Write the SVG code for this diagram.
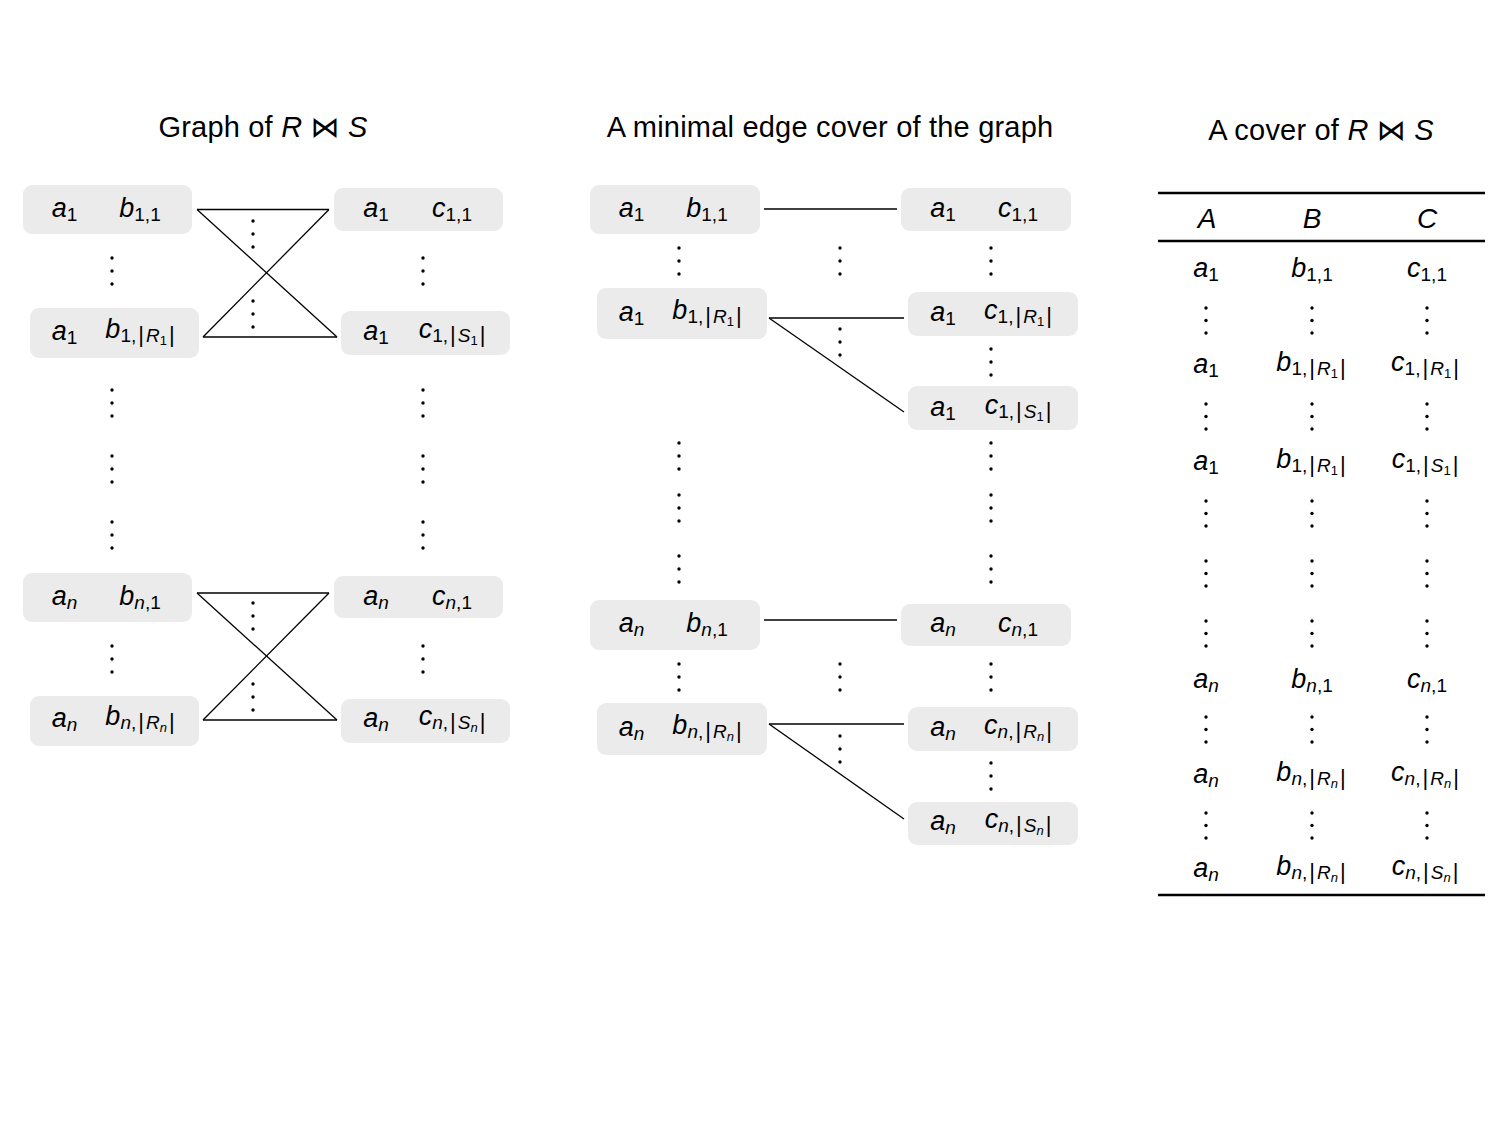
<svg xmlns="http://www.w3.org/2000/svg" xmlns:xlink="http://www.w3.org/1999/xlink" width="1511" height="1133" viewBox="0 0 1511 1133">
<style>
text{font-family:"Liberation Sans","DejaVu Sans",sans-serif;fill:#000}
.t{font-size:27px;text-anchor:middle}
.title{font-size:29px;text-anchor:middle;letter-spacing:0.2px}
.h{font-size:28px;text-anchor:middle;font-style:italic}
.i{font-style:italic}
.s{font-size:19px}
.ss{font-size:13px}
.bar{font-size:22px}
.box{fill:#ebebeb}
.edge{stroke:#000;stroke-width:1.3;fill:none}
.rule{stroke:#000;stroke-width:2.5}
</style>
<defs>
<g id="vd"><circle cx="0" cy="0" r="1.7"/><circle cx="0" cy="13" r="1.7"/><circle cx="0" cy="26" r="1.7"/></g>
<g id="vt"><circle cx="0" cy="0" r="1.7"/><circle cx="0" cy="12.5" r="1.7"/><circle cx="0" cy="25" r="1.7"/></g>
</defs>
<rect width="1511" height="1133" fill="#fff"/>

<g id="titles">
<text class="title" x="263" y="137">Graph of <tspan class="i">R</tspan> ⋈ <tspan class="i">S</tspan></text>
<text class="title" x="830" y="137">A minimal edge cover of the graph</text>
<text class="title" x="1321" y="140">A cover of <tspan class="i">R</tspan> ⋈ <tspan class="i">S</tspan></text>
</g>

<!-- Left graph nodes -->
<g id="L1"><rect class="box" x="23" y="185" width="169" height="49" rx="9"/>
<text class="t" x="64.5" y="217"><tspan class="i">a</tspan><tspan class="s" dy="4">1</tspan></text>
<text class="t" x="140" y="217"><tspan class="i">b</tspan><tspan class="s" dy="4">1,1</tspan></text></g>
<g id="L2"><rect class="box" x="30" y="308" width="169" height="50" rx="9"/>
<text class="t" x="64.5" y="340"><tspan class="i">a</tspan><tspan class="s" dy="4">1</tspan></text>
<text class="t" x="140" y="338"><tspan class="i">b</tspan><tspan class="s" dy="4">1,</tspan><tspan class="bar" dx="2">|</tspan><tspan class="s i" dx="2">R</tspan><tspan class="ss" dy="3">1</tspan><tspan class="bar" dx="2" dy="-3">|</tspan></text></g>
<g id="R1"><rect class="box" x="334" y="188" width="169" height="43" rx="9"/>
<text class="t" x="376" y="217"><tspan class="i">a</tspan><tspan class="s" dy="4">1</tspan></text>
<text class="t" x="452" y="217"><tspan class="i">c</tspan><tspan class="s" dy="4">1,1</tspan></text></g>
<g id="R2"><rect class="box" x="341" y="311" width="169" height="44" rx="9"/>
<text class="t" x="376" y="340"><tspan class="i">a</tspan><tspan class="s" dy="4">1</tspan></text>
<text class="t" x="452" y="338"><tspan class="i">c</tspan><tspan class="s" dy="4">1,</tspan><tspan class="bar" dx="2">|</tspan><tspan class="s i" dx="2">S</tspan><tspan class="ss" dy="3">1</tspan><tspan class="bar" dx="2" dy="-3">|</tspan></text></g>
<g id="L3"><rect class="box" x="23" y="573" width="169" height="49" rx="9"/>
<text class="t" x="64.5" y="605"><tspan class="i">a</tspan><tspan class="s i" dy="4">n</tspan></text>
<text class="t" x="140" y="605"><tspan class="i">b</tspan><tspan class="s i" dy="4">n</tspan><tspan class="s">,1</tspan></text></g>
<g id="L4"><rect class="box" x="30" y="696" width="169" height="50" rx="9"/>
<text class="t" x="64.5" y="727"><tspan class="i">a</tspan><tspan class="s i" dy="4">n</tspan></text>
<text class="t" x="140" y="725"><tspan class="i">b</tspan><tspan class="s i" dy="4">n</tspan><tspan class="s">,</tspan><tspan class="bar" dx="2">|</tspan><tspan class="s i" dx="2">R</tspan><tspan class="ss i" dy="3">n</tspan><tspan class="bar" dx="2" dy="-3">|</tspan></text></g>
<g id="R3"><rect class="box" x="334" y="576" width="169" height="42" rx="9"/>
<text class="t" x="376" y="605"><tspan class="i">a</tspan><tspan class="s i" dy="4">n</tspan></text>
<text class="t" x="452" y="605"><tspan class="i">c</tspan><tspan class="s i" dy="4">n</tspan><tspan class="s">,1</tspan></text></g>
<g id="R4"><rect class="box" x="341" y="699" width="169" height="44" rx="9"/>
<text class="t" x="376" y="727"><tspan class="i">a</tspan><tspan class="s i" dy="4">n</tspan></text>
<text class="t" x="452" y="725"><tspan class="i">c</tspan><tspan class="s i" dy="4">n</tspan><tspan class="s">,</tspan><tspan class="bar" dx="2">|</tspan><tspan class="s i" dx="2">S</tspan><tspan class="ss i" dy="3">n</tspan><tspan class="bar" dx="2" dy="-3">|</tspan></text></g>

<!-- Middle graph nodes -->
<g id="M1"><rect class="box" x="590" y="185" width="170" height="49" rx="9"/>
<text class="t" x="631.5" y="217"><tspan class="i">a</tspan><tspan class="s" dy="4">1</tspan></text>
<text class="t" x="707" y="217"><tspan class="i">b</tspan><tspan class="s" dy="4">1,1</tspan></text></g>
<g id="M2"><rect class="box" x="597" y="288" width="170" height="51" rx="9"/>
<text class="t" x="631.5" y="321"><tspan class="i">a</tspan><tspan class="s" dy="4">1</tspan></text>
<text class="t" x="707" y="319"><tspan class="i">b</tspan><tspan class="s" dy="4">1,</tspan><tspan class="bar" dx="2">|</tspan><tspan class="s i" dx="2">R</tspan><tspan class="ss" dy="3">1</tspan><tspan class="bar" dx="2" dy="-3">|</tspan></text></g>
<g id="MR1"><rect class="box" x="901" y="188" width="170" height="43" rx="9"/>
<text class="t" x="943" y="217"><tspan class="i">a</tspan><tspan class="s" dy="4">1</tspan></text>
<text class="t" x="1018" y="217"><tspan class="i">c</tspan><tspan class="s" dy="4">1,1</tspan></text></g>
<g id="MR2"><rect class="box" x="908" y="292" width="170" height="44" rx="9"/>
<text class="t" x="943" y="321"><tspan class="i">a</tspan><tspan class="s" dy="4">1</tspan></text>
<text class="t" x="1018" y="319"><tspan class="i">c</tspan><tspan class="s" dy="4">1,</tspan><tspan class="bar" dx="2">|</tspan><tspan class="s i" dx="2">R</tspan><tspan class="ss" dy="3">1</tspan><tspan class="bar" dx="2" dy="-3">|</tspan></text></g>
<g id="MR3"><rect class="box" x="908" y="386" width="170" height="44" rx="9"/>
<text class="t" x="943" y="416"><tspan class="i">a</tspan><tspan class="s" dy="4">1</tspan></text>
<text class="t" x="1018" y="414"><tspan class="i">c</tspan><tspan class="s" dy="4">1,</tspan><tspan class="bar" dx="2">|</tspan><tspan class="s i" dx="2">S</tspan><tspan class="ss" dy="3">1</tspan><tspan class="bar" dx="2" dy="-3">|</tspan></text></g>
<g id="M3"><rect class="box" x="590" y="600" width="170" height="50" rx="9"/>
<text class="t" x="631.5" y="632"><tspan class="i">a</tspan><tspan class="s i" dy="4">n</tspan></text>
<text class="t" x="707" y="632"><tspan class="i">b</tspan><tspan class="s i" dy="4">n</tspan><tspan class="s">,1</tspan></text></g>
<g id="M4"><rect class="box" x="597" y="703" width="170" height="52" rx="9"/>
<text class="t" x="631.5" y="736"><tspan class="i">a</tspan><tspan class="s i" dy="4">n</tspan></text>
<text class="t" x="707" y="734"><tspan class="i">b</tspan><tspan class="s i" dy="4">n</tspan><tspan class="s">,</tspan><tspan class="bar" dx="2">|</tspan><tspan class="s i" dx="2">R</tspan><tspan class="ss i" dy="3">n</tspan><tspan class="bar" dx="2" dy="-3">|</tspan></text></g>
<g id="MR4"><rect class="box" x="901" y="604" width="170" height="42" rx="9"/>
<text class="t" x="943" y="632"><tspan class="i">a</tspan><tspan class="s i" dy="4">n</tspan></text>
<text class="t" x="1018" y="632"><tspan class="i">c</tspan><tspan class="s i" dy="4">n</tspan><tspan class="s">,1</tspan></text></g>
<g id="MR5"><rect class="box" x="908" y="707" width="170" height="44" rx="9"/>
<text class="t" x="943" y="736"><tspan class="i">a</tspan><tspan class="s i" dy="4">n</tspan></text>
<text class="t" x="1018" y="734"><tspan class="i">c</tspan><tspan class="s i" dy="4">n</tspan><tspan class="s">,</tspan><tspan class="bar" dx="2">|</tspan><tspan class="s i" dx="2">R</tspan><tspan class="ss i" dy="3">n</tspan><tspan class="bar" dx="2" dy="-3">|</tspan></text></g>
<g id="MR6"><rect class="box" x="908" y="802" width="170" height="43" rx="9"/>
<text class="t" x="943" y="830"><tspan class="i">a</tspan><tspan class="s i" dy="4">n</tspan></text>
<text class="t" x="1018" y="828"><tspan class="i">c</tspan><tspan class="s i" dy="4">n</tspan><tspan class="s">,</tspan><tspan class="bar" dx="2">|</tspan><tspan class="s i" dx="2">S</tspan><tspan class="ss i" dy="3">n</tspan><tspan class="bar" dx="2" dy="-3">|</tspan></text></g>

<!-- Connectors -->
<g id="connectors" class="edge">
<line x1="197" y1="209.5" x2="329" y2="209.5"/>
<line x1="197" y1="209.5" x2="337" y2="337"/>
<line x1="329" y1="209.5" x2="203" y2="337"/>
<line x1="203" y1="337" x2="337" y2="337"/>
<line x1="197" y1="593" x2="329" y2="593"/>
<line x1="197" y1="593" x2="337" y2="720"/>
<line x1="329" y1="593" x2="203" y2="720"/>
<line x1="203" y1="720" x2="337" y2="720"/>
<line x1="764" y1="209" x2="897" y2="209"/>
<line x1="769" y1="318" x2="904" y2="318"/>
<line x1="769" y1="318" x2="904" y2="412"/>
<line x1="764" y1="620" x2="897" y2="620"/>
<line x1="769" y1="724" x2="904" y2="724"/>
<line x1="769" y1="724" x2="904" y2="819"/>
</g>

<!-- Vertical ellipses -->
<g id="dots">
<use href="#vd" x="112" y="258"/><use href="#vd" x="423" y="258"/>
<use href="#vd" x="253" y="221"/><use href="#vd" x="253" y="301"/>
<use href="#vd" x="112" y="390"/><use href="#vd" x="112" y="456"/><use href="#vd" x="112" y="522"/>
<use href="#vd" x="423" y="390"/><use href="#vd" x="423" y="456"/><use href="#vd" x="423" y="522"/>
<use href="#vd" x="112" y="646"/><use href="#vd" x="423" y="646"/>
<use href="#vd" x="253" y="603"/><use href="#vd" x="253" y="684"/>
<use href="#vd" x="679" y="248"/><use href="#vd" x="840" y="248"/><use href="#vd" x="991" y="248"/>
<use href="#vd" x="840" y="329"/><use href="#vd" x="991" y="349"/>
<use href="#vd" x="679" y="443"/><use href="#vd" x="679" y="495"/><use href="#vd" x="679" y="556"/>
<use href="#vd" x="991" y="443"/><use href="#vd" x="991" y="495"/><use href="#vd" x="991" y="556"/>
<use href="#vd" x="679" y="664"/><use href="#vd" x="840" y="664"/><use href="#vd" x="991" y="664"/>
<use href="#vd" x="840" y="736"/><use href="#vd" x="991" y="763"/>
</g>

<!-- Table -->
<g id="table">
<line class="rule" x1="1158" y1="193" x2="1485" y2="193"/>
<line class="rule" x1="1158" y1="241" x2="1485" y2="241"/>
<line class="rule" x1="1158" y1="895" x2="1485" y2="895"/>
<text class="h" x="1207" y="228">A</text>
<text class="h" x="1312" y="228">B</text>
<text class="h" x="1427" y="228">C</text>

<text class="t" x="1206" y="277"><tspan class="i">a</tspan><tspan class="s" dy="4">1</tspan></text>
<text class="t" x="1312" y="277"><tspan class="i">b</tspan><tspan class="s" dy="4">1,1</tspan></text>
<text class="t" x="1427" y="277"><tspan class="i">c</tspan><tspan class="s" dy="4">1,1</tspan></text>

<text class="t" x="1206" y="373"><tspan class="i">a</tspan><tspan class="s" dy="4">1</tspan></text>
<text class="t" x="1311" y="371"><tspan class="i">b</tspan><tspan class="s" dy="4">1,</tspan><tspan class="bar" dx="2">|</tspan><tspan class="s i" dx="2">R</tspan><tspan class="ss" dy="3">1</tspan><tspan class="bar" dx="2" dy="-3">|</tspan></text>
<text class="t" x="1425" y="371"><tspan class="i">c</tspan><tspan class="s" dy="4">1,</tspan><tspan class="bar" dx="2">|</tspan><tspan class="s i" dx="2">R</tspan><tspan class="ss" dy="3">1</tspan><tspan class="bar" dx="2" dy="-3">|</tspan></text>

<text class="t" x="1206" y="470"><tspan class="i">a</tspan><tspan class="s" dy="4">1</tspan></text>
<text class="t" x="1311" y="468"><tspan class="i">b</tspan><tspan class="s" dy="4">1,</tspan><tspan class="bar" dx="2">|</tspan><tspan class="s i" dx="2">R</tspan><tspan class="ss" dy="3">1</tspan><tspan class="bar" dx="2" dy="-3">|</tspan></text>
<text class="t" x="1425" y="468"><tspan class="i">c</tspan><tspan class="s" dy="4">1,</tspan><tspan class="bar" dx="2">|</tspan><tspan class="s i" dx="2">S</tspan><tspan class="ss" dy="3">1</tspan><tspan class="bar" dx="2" dy="-3">|</tspan></text>

<text class="t" x="1206" y="688"><tspan class="i">a</tspan><tspan class="s i" dy="4">n</tspan></text>
<text class="t" x="1312" y="688"><tspan class="i">b</tspan><tspan class="s i" dy="4">n</tspan><tspan class="s">,1</tspan></text>
<text class="t" x="1427" y="688"><tspan class="i">c</tspan><tspan class="s i" dy="4">n</tspan><tspan class="s">,1</tspan></text>

<text class="t" x="1206" y="783"><tspan class="i">a</tspan><tspan class="s i" dy="4">n</tspan></text>
<text class="t" x="1311" y="781"><tspan class="i">b</tspan><tspan class="s i" dy="4">n</tspan><tspan class="s">,</tspan><tspan class="bar" dx="2">|</tspan><tspan class="s i" dx="2">R</tspan><tspan class="ss i" dy="3">n</tspan><tspan class="bar" dx="2" dy="-3">|</tspan></text>
<text class="t" x="1425" y="781"><tspan class="i">c</tspan><tspan class="s i" dy="4">n</tspan><tspan class="s">,</tspan><tspan class="bar" dx="2">|</tspan><tspan class="s i" dx="2">R</tspan><tspan class="ss i" dy="3">n</tspan><tspan class="bar" dx="2" dy="-3">|</tspan></text>

<text class="t" x="1206" y="877"><tspan class="i">a</tspan><tspan class="s i" dy="4">n</tspan></text>
<text class="t" x="1311" y="875"><tspan class="i">b</tspan><tspan class="s i" dy="4">n</tspan><tspan class="s">,</tspan><tspan class="bar" dx="2">|</tspan><tspan class="s i" dx="2">R</tspan><tspan class="ss i" dy="3">n</tspan><tspan class="bar" dx="2" dy="-3">|</tspan></text>
<text class="t" x="1425" y="875"><tspan class="i">c</tspan><tspan class="s i" dy="4">n</tspan><tspan class="s">,</tspan><tspan class="bar" dx="2">|</tspan><tspan class="s i" dx="2">S</tspan><tspan class="ss i" dy="3">n</tspan><tspan class="bar" dx="2" dy="-3">|</tspan></text>

<use href="#vt" x="1206" y="308"/><use href="#vt" x="1312" y="308"/><use href="#vt" x="1427" y="308"/>
<use href="#vt" x="1206" y="404"/><use href="#vt" x="1312" y="404"/><use href="#vt" x="1427" y="404"/>
<use href="#vt" x="1206" y="501"/><use href="#vt" x="1312" y="501"/><use href="#vt" x="1427" y="501"/>
<use href="#vt" x="1206" y="561"/><use href="#vt" x="1312" y="561"/><use href="#vt" x="1427" y="561"/>
<use href="#vt" x="1206" y="621"/><use href="#vt" x="1312" y="621"/><use href="#vt" x="1427" y="621"/>
<use href="#vt" x="1206" y="717"/><use href="#vt" x="1312" y="717"/><use href="#vt" x="1427" y="717"/>
<use href="#vt" x="1206" y="813"/><use href="#vt" x="1312" y="813"/><use href="#vt" x="1427" y="813"/>
</g>
</svg>
